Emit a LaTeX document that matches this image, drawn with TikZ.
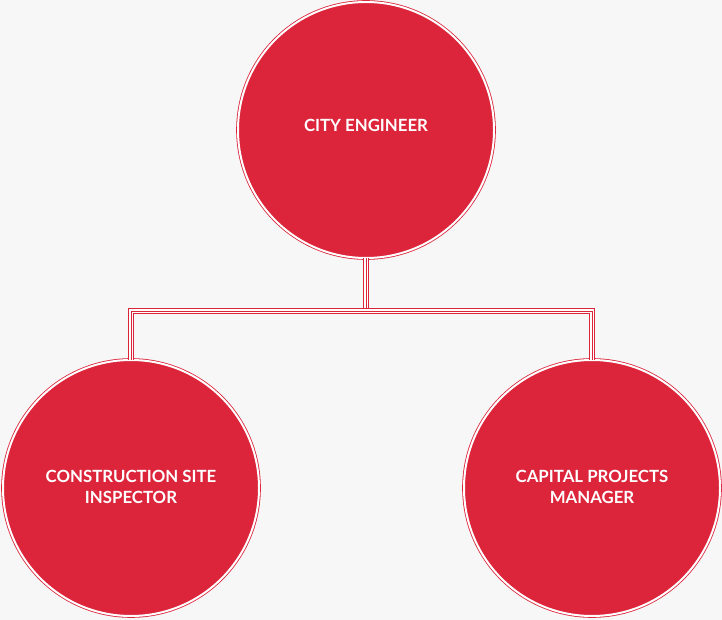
\documentclass[tikz,border=0pt]{standalone}
\usepackage{fontspec}
\setmainfont{Lato}
\definecolor{cityred}{RGB}{220,36,58}
\definecolor{paper}{RGB}{247,247,247}
\tikzset{
  post/.style={circle, fill=cityred, draw=cityred, line width=0.8pt,
    double=white, double distance=2pt, minimum size=256pt, inner sep=0pt,
    text=white, font=\bfseries\fontsize{16.8}{21}\selectfont, align=center},
  link/.style={draw=white, line width=3.2pt,
    preaction={draw=cityred, line width=5.2pt},
    postaction={draw=cityred, line width=0.9pt}}
}
\begin{document}
\begin{tikzpicture}[x=1pt,y=-1pt]
  % background
  \fill[paper] (0,0) rectangle (722,620);
  \useasboundingbox (0,0) rectangle (722,620);

  % the three posts
  \node[post] (city) at (366,130) {\raisebox{9pt}{CITY ENGINEER}};
  \node[post] (inspector) at (131,488) {\raisebox{3pt}{CONSTRUCTION SITE}\\\raisebox{3pt}{INSPECTOR}};
  \node[post] (manager) at (592,488) {\raisebox{3pt}{CAPITAL PROJECTS}\\\raisebox{3pt}{MANAGER}};

  % connectors
  \coordinate (bus) at (366,311);
  \draw[link] (city.south) -- (bus);
  \draw[link] (inspector.north) -- (inspector.north |- bus) -- (manager.north |- bus) -- (manager.north);
\end{tikzpicture}
\end{document}
